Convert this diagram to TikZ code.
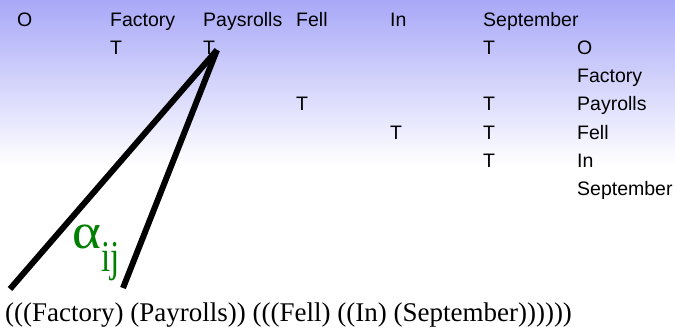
\documentclass[tikz,border=0pt]{standalone}
\usepackage{fontspec}
\setmainfont{Liberation Sans}
\newfontfamily\timesfont{Liberation Serif}
\definecolor{bgtop}{RGB}{168,168,248}
\definecolor{alphagreen}{RGB}{0,128,0}
\begin{document}
\begin{tikzpicture}[x=1pt,y=-1pt,
  lbl/.style={anchor=base west,inner sep=0pt,font=\fontsize{19.5}{20}\selectfont},
  arm/.style={line width=6pt,line cap=butt}]
\useasboundingbox (0,0) rectangle (675,327);
\fill[white] (0,0) rectangle (675,327);
\shade[top color=bgtop,bottom color=white] (0,0) rectangle (675,165);
% header row
\node[lbl] (hO) at (17,26) {O};
\node[lbl] (hFactory) at (110,26) {Factory};
\node[lbl] (hPay) at (203,26) {Paysrolls};
\node[lbl] (hFell) at (296,26) {Fell};
\node[lbl] (hIn) at (390,26) {In};
\node[lbl] (hSep) at (483,26) {September};
% row 2
\node[lbl] (t21) at (110,54) {T};
\node[lbl] (t22) at (203,54) {T};
\node[lbl] (t23) at (483,54) {T};
\node[lbl] (vO) at (577,54) {O};
% row 3
\node[lbl] (vFactory) at (577,82) {Factory};
% row 4
\node[lbl] (t41) at (296,110) {T};
\node[lbl] (t42) at (483,110) {T};
\node[lbl] (vPay) at (577,110) {Payrolls};
% row 5
\node[lbl] (t51) at (390,139) {T};
\node[lbl] (t52) at (483,139) {T};
\node[lbl] (vFell) at (577,139) {Fell};
% row 6
\node[lbl] (t61) at (483,167) {T};
\node[lbl] (vIn) at (577,167) {In};
% row 7
\node[lbl] (vSep) at (577,195) {September};
% lines
\coordinate (apex) at (217,50);
\coordinate (leftend) at (10,289);
\coordinate (rightend) at (123,288);
\draw[arm] (apex) -- (leftend);
\draw[arm] (apex) -- (rightend);
% alpha
\node[anchor=base west,inner sep=0pt,text=alphagreen,xscale=1.1,font=\timesfont\fontsize{50}{52}\selectfont] (alpha) at (72,248) {α};
\node[anchor=base west,inner sep=0pt,text=alphagreen,xscale=0.75,font=\timesfont\fontsize{44}{46}\selectfont] (sub) at (101,271) {ij};
% bottom bracket text
\node[anchor=base west,inner sep=0pt,font=\timesfont\fontsize{27}{29}\selectfont] (bracket) at (5,321) {(((Factory) (Payrolls)) (((Fell) ((In) (September))))))};
\end{tikzpicture}
\end{document}
